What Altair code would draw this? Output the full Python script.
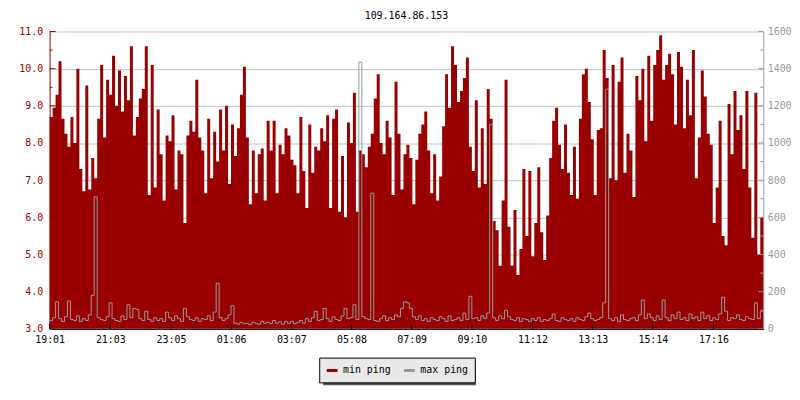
import altair as alt
import numpy as np
import pandas as pd

mono = "DejaVu Sans Mono"
title_text = "109.164.86.153"
tick_labels = ["19:01", "21:03", "23:05", "01:06", "03:07", "05:08",
               "07:09", "09:10", "11:12", "13:13", "15:14", "17:16"]
tick_minutes = [0, 122, 244, 365, 486, 607, 728, 849, 971, 1092, 1213, 1335]
span_minutes = 1435
left_major = [3, 4, 5, 6, 7, 8, 9, 10, 11]
left_minor = [3.5, 4.5, 5.5, 6.5, 7.5, 8.5, 9.5, 10.5]
right_major = [0, 200, 400, 600, 800, 1000, 1200, 1400, 1600]
right_minor = [100, 300, 500, 700, 900, 1100, 1300, 1500]
series_names = ["min ping", "max ping"]
series_colors = ["#990000", "#999999"]

# min ping (left axis), 6-minute samples, in six 4-hour chunks
min_ping_1 = [8.7, 8.95, 9.3, 10.2, 8.65, 8.25, 7.9, 8.7, 8.0, 10.0, 7.3, 6.7, 9.55, 6.75, 7.6,
              7.05, 8.65, 10.1, 8.15, 9.7, 9.3, 10.35, 9.0, 9.95, 8.85, 9.8, 9.15, 10.6, 8.2, 8.7,
              9.2, 9.45, 10.6, 6.6, 10.1, 6.8, 8.9, 7.7, 6.45, 8.2]
min_ping_2 = [8.05, 8.75, 6.75, 7.8, 7.7, 5.85, 8.2, 8.6, 8.3, 9.7, 8.15, 7.8, 6.65, 8.65, 7.05,
              8.3, 7.5, 8.9, 7.8, 9.0, 6.9, 8.5, 7.65, 8.4, 9.3, 10.05, 8.15, 6.35, 7.8, 6.65,
              7.7, 7.85, 6.45, 8.6, 7.8, 8.6, 6.65, 7.95, 7.7, 8.4]
min_ping_3 = [8.2, 7.55, 7.4, 6.65, 8.7, 7.25, 6.25, 8.5, 7.2, 7.9, 7.8, 8.4, 8.05, 8.75, 6.25,
              8.65, 8.9, 6.15, 7.65, 6.0, 8.55, 8.0, 9.35, 6.15, 7.8, 7.7, 7.35, 7.9, 8.25, 9.2,
              9.85, 8.0, 7.7, 8.6, 8.15, 6.6, 9.65, 8.25, 6.75, 7.7]
min_ping_4 = [7.95, 7.6, 6.35, 7.55, 8.25, 8.5, 8.85, 7.8, 6.65, 7.7, 6.45, 7.1, 8.45, 9.85, 8.95,
              10.6, 10.1, 9.1, 9.4, 9.75, 10.3, 7.9, 7.25, 9.15, 6.8, 8.4, 6.9, 9.45, 8.65, 5.9,
              5.65, 4.7, 6.45, 9.7, 5.75, 4.7, 6.2, 4.45, 5.15, 7.3]
min_ping_5 = [5.5, 7.25, 4.95, 5.85, 7.35, 5.6, 4.85, 6.05, 7.6, 8.6, 8.95, 7.95, 7.3, 8.5, 7.2,
              6.6, 7.9, 6.5, 8.65, 9.85, 10.0, 9.1, 8.1, 6.6, 8.35, 8.4, 10.5, 9.75, 7.05, 10.1,
              7.0, 9.65, 10.3, 7.2, 8.25, 7.8, 6.55, 9.8, 9.15, 10.0]
min_ping_6 = [8.05, 10.35, 8.6, 10.1, 10.5, 10.9, 9.7, 10.1, 10.4, 9.85, 8.5, 10.45, 10.05, 8.4, 9.7,
              8.75, 10.5, 7.05, 8.15, 9.95, 9.25, 8.25, 7.95, 5.85, 6.8, 8.6, 5.5, 5.25, 9.05, 7.7,
              9.4, 8.35, 8.75, 7.3, 9.4, 6.8, 5.45, 9.35, 5.0, 6.0]

# max ping (right axis)
max_ping_1 = [45, 60, 145, 55, 40, 65, 150, 50, 45, 70, 40, 55, 45, 75, 180, 710, 60, 50, 45, 65,
              140, 55, 45, 40, 70, 50, 130, 60, 110, 105, 55, 45, 95, 50, 40, 60, 45, 55, 40, 90]
max_ping_2 = [60, 45, 70, 55, 40, 110, 65, 50, 45, 60, 40, 55, 50, 70, 45, 90, 245, 60, 45, 55,
              75, 125, 30, 25, 35, 28, 30, 22, 35, 30, 25, 40, 30, 35, 28, 45, 30, 38, 25, 40]
max_ping_3 = [30, 40, 28, 35, 45, 30, 55, 40, 60, 95, 45, 50, 110, 55, 40, 65, 50, 45, 70, 110,
              55, 60, 130, 50, 1435, 65, 55, 50, 730, 45, 40, 55, 70, 45, 60, 50, 75, 65, 110, 145]
max_ping_4 = [140, 110, 65, 50, 70, 45, 55, 40, 60, 50, 45, 65, 55, 40, 70, 45, 50, 60, 45, 85,
              50, 175, 55, 60, 45, 70, 55, 85, 1100, 60, 45, 70, 55, 100, 65, 50, 45, 60, 40, 55]
max_ping_5 = [50, 40, 55, 45, 60, 40, 50, 45, 55, 80, 45, 40, 60, 50, 45, 55, 40, 60, 50, 45,
              65, 85, 55, 45, 50, 60, 140, 1290, 55, 45, 60, 40, 75, 50, 45, 55, 60, 45, 75, 155]
max_ping_6 = [55, 80, 60, 45, 70, 50, 155, 60, 45, 75, 55, 90, 50, 60, 45, 80, 55, 65, 45, 90,
              55, 70, 45, 60, 50, 80, 170, 95, 45, 60, 55, 75, 50, 45, 65, 55, 50, 140, 55, 95]

min_ping = min_ping_1 + min_ping_2 + min_ping_3 + min_ping_4 + min_ping_5 + min_ping_6
max_ping = max_ping_1 + max_ping_2 + max_ping_3 + max_ping_4 + max_ping_5 + max_ping_6
n = len(min_ping)
t_edges = np.linspace(0, span_minutes, n + 1)

df_min = pd.DataFrame({"t": t_edges, "v": min_ping + [min_ping[-1]], "s": "min ping"})
df_max = pd.DataFrame({"t": t_edges, "v": max_ping + [max_ping[-1]], "s": "max ping"})

label_expr = ("[" + ",".join(f"'{l}'" for l in tick_labels) + "][indexof(["
              + ",".join(str(m) for m in tick_minutes) + "], datum.value)]")

x_scale = alt.Scale(domain=[0, span_minutes], nice=False, zero=False)


def x_axis():
    return alt.Axis(values=tick_minutes, labelExpr=label_expr, ticks=False, tickSize=0,
                    domainColor="black", labelColor="black", labelFont=mono, labelFontSize=10,
                    labelPadding=6, grid=False, zindex=1, labelFlush=False, labelOverlap=False)


left_scale = alt.Scale(domain=[3, 11], nice=False, zero=False)
right_scale = alt.Scale(domain=[0, 1600], nice=False, zero=False)

area = alt.Chart(df_min).mark_area(interpolate="step-after", color="#990000").encode(
    x=alt.X("t:Q", scale=x_scale, axis=x_axis(), title=None),
    y=alt.Y("v:Q", scale=left_scale, title=None,
            axis=alt.Axis(orient="left", values=left_major, format=".1f", labelColor="#990000",
                          domainColor="#990000", ticks=False, tickSize=0, grid=True,
                          gridColor="#c0c0c0", labelFont=mono, labelFontSize=10, labelPadding=7)),
    y2=alt.datum(3),
)

line = alt.Chart(df_max).mark_line(interpolate="step-after", strokeWidth=1).encode(
    x=alt.X("t:Q", scale=x_scale, axis=x_axis(), title=None),
    y=alt.Y("v:Q", scale=right_scale, title=None,
            axis=alt.Axis(orient="right", values=right_major, format="d", labelColor="#999999",
                          domainColor="#999999", ticks=False, tickSize=0, grid=False,
                          labelFont=mono, labelFontSize=10, labelPadding=4)),
    color=alt.Color("s:N", scale=alt.Scale(domain=series_names, range=series_colors),
                    legend=alt.Legend(title=None, orient="none", legendX=272, legendY=329,
                                      direction="horizontal", fillColor="#e9e9e9",
                                      strokeColor="black", padding=6, symbolType="stroke",
                                      symbolStrokeWidth=3, symbolSize=121, labelFont=mono,
                                      labelFontSize=10, labelColor="black", columnPadding=6,
                                      labelOffset=4)),
)


def tick_layer(values, scale, x0, x1, color):
    return alt.Chart(pd.DataFrame({"v": values})).mark_rule(color=color, strokeWidth=1).encode(
        y=alt.Y("v:Q", scale=scale, axis=None),
        x=alt.value(x0), x2=alt.value(x1),
    )


lt_major = tick_layer(left_major, left_scale, 0, 6, "#990000")
lt_minor = tick_layer(left_minor, left_scale, 0, 3, "#990000")
rt_major = tick_layer(right_major, right_scale, 715, 720, "#999999")
rt_minor = tick_layer(right_minor, right_scale, 717, 720, "#999999")

x_ticks = alt.Chart(pd.DataFrame({"t": tick_minutes})).mark_rule(color="black").encode(
    x=alt.X("t:Q", scale=x_scale, axis=x_axis(), title=None),
    y=alt.value(295), y2=alt.value(300),
)

shadow = alt.Chart(pd.DataFrame({"k": [0]})).mark_rect(color="#555555").encode(
    x=alt.value(276), x2=alt.value(430), y=alt.value(332), y2=alt.value(357),
)

chart = alt.layer(area, line, lt_major, lt_minor, rt_major, rt_minor, x_ticks, shadow).resolve_scale(
    y="independent"
).properties(
    width=720, height=300,
    autosize=alt.AutoSizeParams(type="none"),
    padding={"left": 42, "top": 22, "right": 29, "bottom": 62},
    title=alt.TitleParams(text=title_text, font=mono, fontSize=10, fontWeight="normal",
                          color="black", anchor="middle", offset=6),
    background="white",
).configure_view(strokeWidth=0)

chart.save("out.html", embed_options={"renderer": "svg", "actions": False})
